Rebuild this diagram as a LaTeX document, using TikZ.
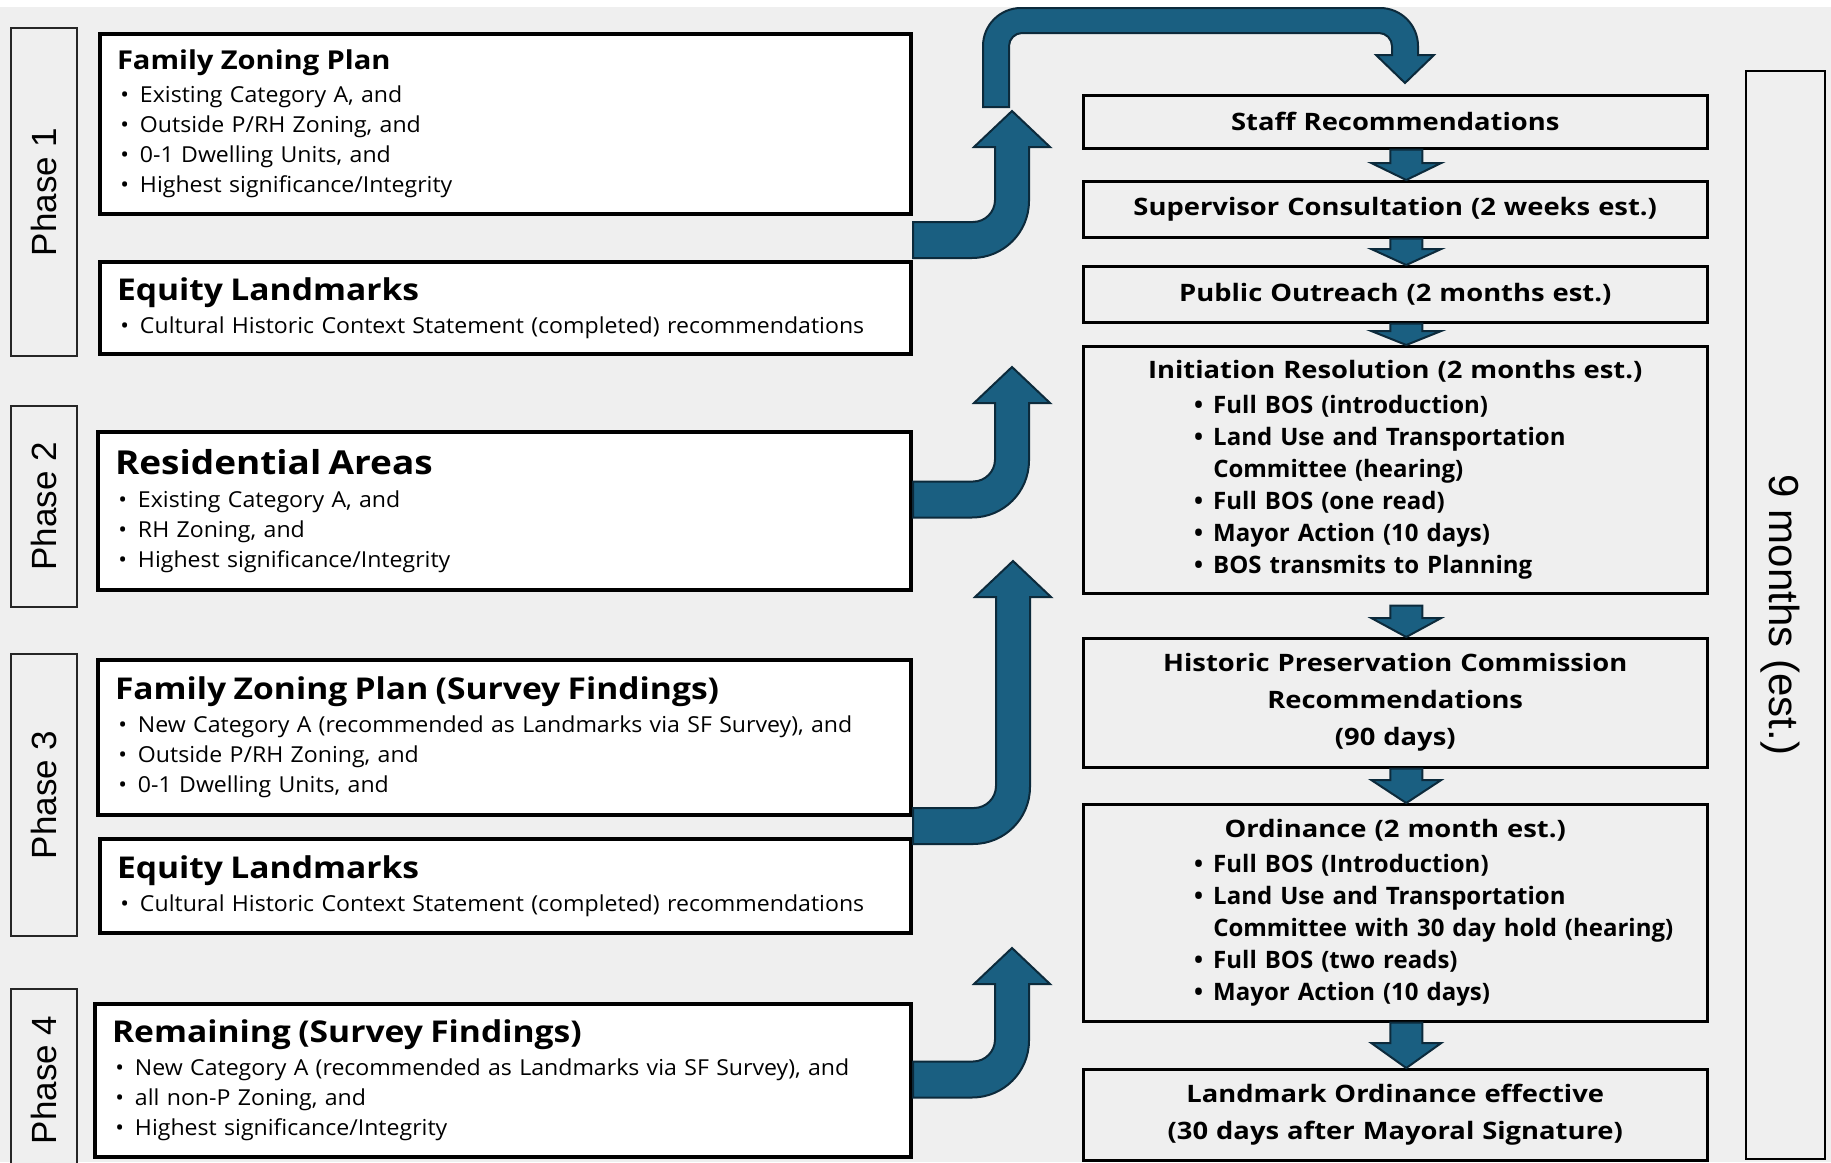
\documentclass[tikz,border=0pt]{standalone}
\usepackage{fontspec}
\setmainfont{Open Sans}
\newfontfamily\lfam{Open Sans}[FakeStretch=1.05]
\newfontfamily\tfam{Open Sans}[FakeStretch=1.12]
\newfontfamily\rtfam{Open Sans}[FakeStretch=1.14]
\newfontfamily\arialf{Liberation Sans}
\usetikzlibrary{calc}
\definecolor{bggray}{RGB}{239,239,239}
\definecolor{arrfill}{RGB}{26,95,129}
\definecolor{arrline}{RGB}{12,42,59}

\newcommand\lfont{\lfam\fontsize{22}{30}\selectfont}
\newcommand\rfont{\fontsize{24}{32}\selectfont\bfseries}
\newcommand\ltitle[2]{\leftskip=17pt\parindent=0pt\noindent{\tfam\fontsize{#1}{#1}\selectfont\bfseries #2\par}\vspace{3pt}}
\newcommand\lbul[1]{\leftskip=40pt\noindent\llap{\textbullet\hspace{11pt}}#1\par}
\newcommand\rbul[1]{\leftskip=130pt\noindent\llap{\textbullet\hspace{10pt}}#1\par}
\newcommand\rtitle[1]{{\rtfam\bfseries\parindent=0pt\centering #1\par}}

\newcommand\bentarrow[2]{%
  \path[barrow] let \p1=(#1), \p2=(#2) in
  (\x1,\y1+18pt) -- (\x2-39pt,\y1+18pt)
  .. controls (\x2-26.9pt,\y1+18pt) and (\x2-17pt,\y1+27.9pt) .. (\x2-17pt,\y1+40pt)
  -- (\x2-17pt,\y2-36pt) -- (\x2-38pt,\y2-36pt) -- (\x2,\y2) -- (\x2+38pt,\y2-36pt) -- (\x2+17pt,\y2-36pt)
  -- (\x2+17pt,\y1+39pt)
  .. controls (\x2+17pt,\y1+7.5pt) and (\x2-8.5pt,\y1-18pt) .. (\x2-40pt,\y1-18pt)
  -- (\x1,\y1-18pt) -- cycle;}

\newcommand\dnarr[4]{% from, to, gap, head length
  \path[barrow] ($(#1.south)+(-5,#3)$) -- ($(#1.south)+(27,#3)$) -- ($(#2.north)+(27,-#4)$)
  -- ($(#2.north)+(46,-#4)$) -- ($(#2.north)+(11,0)$) -- ($(#2.north)+(-24,-#4)$)
  -- ($(#2.north)+(-5,-#4)$) -- cycle;}

\begin{document}
\begin{tikzpicture}[x=1pt,y=-1pt,
  lbox/.style={draw=black, line width=4pt, fill=white, inner sep=0pt, anchor=north west, font=\lfont},
  pbox/.style={draw=black!85, line width=2.5pt, fill=bggray, inner sep=0pt, rotate=90,
     font=\arialf\fontsize{35}{35}\selectfont},
  rbox/.style={draw=black, line width=2.5pt, fill=bggray, inner sep=0pt, anchor=north west,
     text width=624pt, minimum width=624pt, font=\rfont},
  barrow/.style={fill=arrfill, draw=arrline, line width=2pt, line join=miter}]

\useasboundingbox (0,0) rectangle (1831,1162);
\fill[white] (0,0) rectangle (1831,7);
\fill[bggray] (0,7) rectangle (1831,1162);

% phase labels
\node[pbox, minimum width=328pt, minimum height=66pt] (ph1) at (44,192) {Phase 1};
\node[pbox, minimum width=201pt, minimum height=66pt] (ph2) at (44,506.5) {Phase 2};
\node[pbox, minimum width=282pt, minimum height=66pt] (ph3) at (44,795) {Phase 3};
\node[pbox, minimum width=182pt, minimum height=66pt] (ph4) at (44,1080) {Phase 4};

% left boxes
\node[lbox, minimum width=811pt, minimum height=180pt, text width=811pt] (fzp) at (98,32) {%
  \ltitle{26}{Family Zoning Plan}%
  \lbul{Existing Category A, and}%
  \lbul{Outside P/RH Zoning, and}%
  \lbul{0-1 Dwelling Units, and}%
  \lbul{Highest significance/Integrity}};
\node[lbox, minimum width=811pt, minimum height=92pt, text width=811pt] (eq1) at (98,260) {%
  \ltitle{30}{Equity Landmarks}%
  \lbul{Cultural Historic Context Statement (completed) recommendations}};
\node[lbox, minimum width=813pt, minimum height=158pt, text width=813pt] (res) at (96,430) {%
  \ltitle{33}{Residential Areas}%
  \lbul{Existing Category A, and}%
  \lbul{RH Zoning, and}%
  \lbul{Highest significance/Integrity}};
\node[lbox, minimum width=813pt, minimum height=155pt, text width=813pt] (fzps) at (96,658) {%
  \ltitle{30}{Family Zoning Plan (Survey Findings)}%
  \lbul{New Category A (recommended as Landmarks via SF Survey), and}%
  \lbul{Outside P/RH Zoning, and}%
  \lbul{0-1 Dwelling Units, and}};
\node[lbox, minimum width=811pt, minimum height=94pt, text width=811pt] (eq2) at (98,837) {%
  \ltitle{30}{Equity Landmarks}%
  \lbul{Cultural Historic Context Statement (completed) recommendations}};
\node[lbox, minimum width=816pt, minimum height=153pt, text width=816pt] (rem) at (93,1002) {%
  \ltitle{30}{Remaining (Survey Findings)}%
  \lbul{New Category A (recommended as Landmarks via SF Survey), and}%
  \lbul{all non-P Zoning, and}%
  \lbul{Highest significance/Integrity}};

% right boxes
\node[rbox, minimum height=53pt] (staff) at (1082,94) {\rtitle{Staff Recommendations}};
\node[rbox, minimum height=56pt] (sup) at (1082,180) {\rtitle{Supervisor Consultation (2 weeks est.)}};
\node[rbox, minimum height=56pt] (pub) at (1082,265) {\rtitle{Public Outreach (2 months est.)}};
\node[rbox, minimum height=247pt] (init) at (1082,345) {%
  \rtitle{Initiation Resolution (2 months est.)}\vspace{3pt}%
  \rbul{Full BOS (introduction)}%
  \rbul{Land Use and Transportation\\Committee (hearing)}%
  \rbul{Full BOS (one read)}%
  \rbul{Mayor Action (10 days)}%
  \rbul{BOS transmits to Planning}};
\node[rbox, minimum height=129pt] (hpc) at (1082,637) {%
  {\rtfam\bfseries\parindent=0pt\centering\baselineskip=37pt Historic Preservation Commission\\Recommendations\\(90 days)\par}};
\node[rbox, minimum height=217pt] (ord) at (1082,803) {%
  \rtitle{Ordinance (2 month est.)}\vspace{3pt}%
  \rbul{Full BOS (Introduction)}%
  \rbul{Land Use and Transportation\\Committee with 30 day hold (hearing)}%
  \rbul{Full BOS (two reads)}%
  \rbul{Mayor Action (10 days)}};
\node[rbox, minimum height=91pt] (land) at (1082,1068) {%
  {\rtfam\bfseries\parindent=0pt\centering\baselineskip=37pt Landmark Ordinance effective\\(30 days after Mayoral Signature)\par}};

\node[draw=black, line width=2.5pt, fill=bggray, inner sep=0pt,
  minimum width=79pt, minimum height=1088pt] (months) at (1785.5,615) {};
\node[rotate=-90, inner sep=0pt, font=\arialf\fontsize{42}{42}\selectfont]
  (monthstxt) at (1780,615) {9 months (est.)};

% bent arrows from phases
\coordinate (t1) at (1012,111);
\coordinate (t2) at (1012,367);
\coordinate (t3) at (1013,561);
\coordinate (t4) at (1012,948);
\coordinate (s1) at ($(fzp.south east)!0.5!(eq1.north east)+(0,2)$);
\coordinate (s2) at ($(res.east)+(0,-11.5)$);
\coordinate (s3) at ($(fzps.south east)!0.5!(eq2.north east)+(0,-1)$);
\coordinate (s4) at ($(rem.east)+(0,-1)$);
\bentarrow{s1}{t1}
\bentarrow{s2}{t2}
\bentarrow{s3}{t3}
\bentarrow{s4}{t4}

% top arrow into Staff Recommendations
\path[barrow] (983,107) -- (983,46) .. controls (983,25) and (1000,8) .. (1021,8)
  -- (1380,8) .. controls (1401,8) and (1418,25) .. (1418,46) -- (1418,55)
  -- (1434,55) -- (1405,83) -- (1376,55) -- (1392,55) -- (1392,46)
  .. controls (1392,39) and (1386,33) .. (1379,33) -- (1022,33)
  .. controls (1015,33) and (1009,39) .. (1009,46) -- (1009,107) -- cycle;

% step arrows
\dnarr{staff}{sup}{0}{17}
\dnarr{sup}{pub}{0}{16}
\dnarr{pub}{init}{0}{14}
\dnarr{init}{hpc}{11}{19}
\dnarr{hpc}{ord}{0}{23}
\dnarr{ord}{land}{0}{25}
\end{tikzpicture}
\end{document}
